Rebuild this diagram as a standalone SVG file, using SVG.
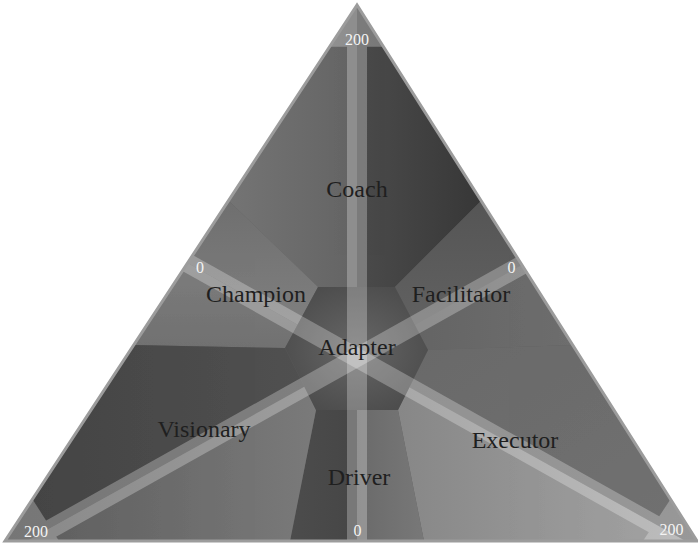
<svg xmlns="http://www.w3.org/2000/svg" width="698" height="543" viewBox="0 0 698 543">
<style>
.lbl{font-family:"Liberation Serif","DejaVu Serif",serif;font-size:24px;fill:#1f1f1f;text-anchor:middle}
.num{font-family:"Liberation Serif","DejaVu Serif",serif;font-size:16px;fill:#f4f4f4;text-anchor:middle}
.bar{fill:#ffffff;opacity:0.27}
</style>
<defs>
<clipPath id="tri"><polygon points="357,5 5,541 697,541"/></clipPath>
<linearGradient id="gCoachL" x1="0" y1="0" x2="1" y2="0"><stop offset="0" stop-color="#747474"/><stop offset="1" stop-color="#646464"/></linearGradient>
<linearGradient id="gCoachR" x1="0" y1="0" x2="1" y2="0"><stop offset="0" stop-color="#4b4b4b"/><stop offset="1" stop-color="#373737"/></linearGradient>
<linearGradient id="gChampU" x1="0" y1="0" x2="0" y2="1"><stop offset="0" stop-color="#6f6f6f"/><stop offset="1" stop-color="#7f7f7f"/></linearGradient>
<linearGradient id="gChampL" x1="0" y1="0" x2="0" y2="1"><stop offset="0" stop-color="#7d7d7d"/><stop offset="1" stop-color="#717171"/></linearGradient>
<linearGradient id="gFacU" x1="0" y1="0" x2="0" y2="1"><stop offset="0" stop-color="#555555"/><stop offset="1" stop-color="#616161"/></linearGradient>
<linearGradient id="gFacL" x1="0" y1="0" x2="1" y2="0"><stop offset="0" stop-color="#646464"/><stop offset="1" stop-color="#6e6e6e"/></linearGradient>
<linearGradient id="gExeU" x1="0" y1="0" x2="1" y2="1"><stop offset="0" stop-color="#696969"/><stop offset="1" stop-color="#727272"/></linearGradient>
<linearGradient id="gExeL" x1="0" y1="0" x2="1" y2="0"><stop offset="0" stop-color="#878787"/><stop offset="1" stop-color="#a4a4a4"/></linearGradient>
<linearGradient id="gDrvL" x1="0" y1="0" x2="1" y2="0"><stop offset="0" stop-color="#4c4c4c"/><stop offset="1" stop-color="#464646"/></linearGradient>
<linearGradient id="gDrvR" x1="0" y1="0" x2="1" y2="0"><stop offset="0" stop-color="#6a6a6a"/><stop offset="1" stop-color="#787878"/></linearGradient>
<linearGradient id="gVisU" x1="0" y1="0" x2="1" y2="0"><stop offset="0" stop-color="#444444"/><stop offset="1" stop-color="#505050"/></linearGradient>
<linearGradient id="gVisL" x1="0" y1="0" x2="1" y2="0"><stop offset="0" stop-color="#5e5e5e"/><stop offset="1" stop-color="#7a7a7a"/></linearGradient>
<radialGradient id="gHex" cx="0.5" cy="0.5" r="0.55"><stop offset="0" stop-color="#666666"/><stop offset="1" stop-color="#4d4d4d"/></radialGradient>
</defs>

<polygon id="base" points="357,5 5,541 697,541" fill="#5e5e5e"/>

<g id="coach">
<polygon points="357,5 229,201 318,287 357,287" fill="url(#gCoachL)"/>
<polygon points="357,5 357,287 395,287 481,201" fill="url(#gCoachR)"/>
</g>
<g id="champion">
<polygon points="229,201 318,287 297.6,324.7 187.7,263.1" fill="url(#gChampU)"/>
<polygon points="187.7,263.1 297.6,324.7 285,348 134,345" fill="url(#gChampL)"/>
</g>
<g id="facilitator">
<polygon points="481,201 521.5,265.3 414.9,325 395,287" fill="url(#gFacU)"/>
<polygon points="521.5,265.3 572,345 428,350 414.9,325" fill="url(#gFacL)"/>
</g>
<g id="executor">
<polygon points="572,345 697,541 685.7,541 409.4,387.3 428,350" fill="url(#gExeU)"/>
<polygon points="409.4,387.3 685.7,541 424,541 398,410" fill="url(#gExeL)"/>
</g>
<g id="driver">
<polygon points="357,410 316,410 290,541 357,541" fill="url(#gDrvL)"/>
<polygon points="357,410 357,541 424,541 398,410" fill="url(#gDrvR)"/>
</g>
<g id="visionary">
<polygon points="134,345 285,348 304.4,386.8 27.3,541 5,541" fill="url(#gVisU)"/>
<polygon points="304.4,386.8 316,410 290,541 27.3,541" fill="url(#gVisL)"/>
</g>
<g id="adapter">
<polygon points="318,287 395,287 428,350 398,410 316,410 285,348" fill="url(#gHex)"/>
</g>

<g id="connectors" clip-path="url(#tri)">
<g class="bar"><rect x="347" y="0" width="20" height="543"/><polygon points="357,5 329.5,46.8 384.5,46.8"/></g>
<g class="bar"><polygon points="154.64,233.71 724.64,552.91 715.36,569.49 145.36,250.29"/><polygon points="697,541 670.5,499.2 643,541"/></g>
<g class="bar"><polygon points="558.36,233.71 -11.64,552.91 -2.36,569.49 567.64,250.29"/><polygon points="5,541 32.5,499.2 59,541"/></g>
</g>

<polygon points="357,5 5,541 697,541" fill="none" stroke="#9c9c9c" stroke-width="3"/>

<g id="labels">
<text class="lbl" x="357" y="197">Coach</text>
<text class="lbl" x="256" y="302">Champion</text>
<text class="lbl" x="461" y="302">Facilitator</text>
<text class="lbl" x="357" y="355">Adapter</text>
<text class="lbl" x="204" y="437">Visionary</text>
<text class="lbl" x="515" y="448">Executor</text>
<text class="lbl" x="359" y="485">Driver</text>
</g>
<g id="axis-values">
<text class="num" x="357" y="45">200</text>
<text class="num" x="200" y="273">0</text>
<text class="num" x="511.5" y="273">0</text>
<text class="num" x="357.5" y="536">0</text>
<text class="num" x="36" y="537">200</text>
<text class="num" x="671.5" y="535">200</text>
</g>
</svg>
